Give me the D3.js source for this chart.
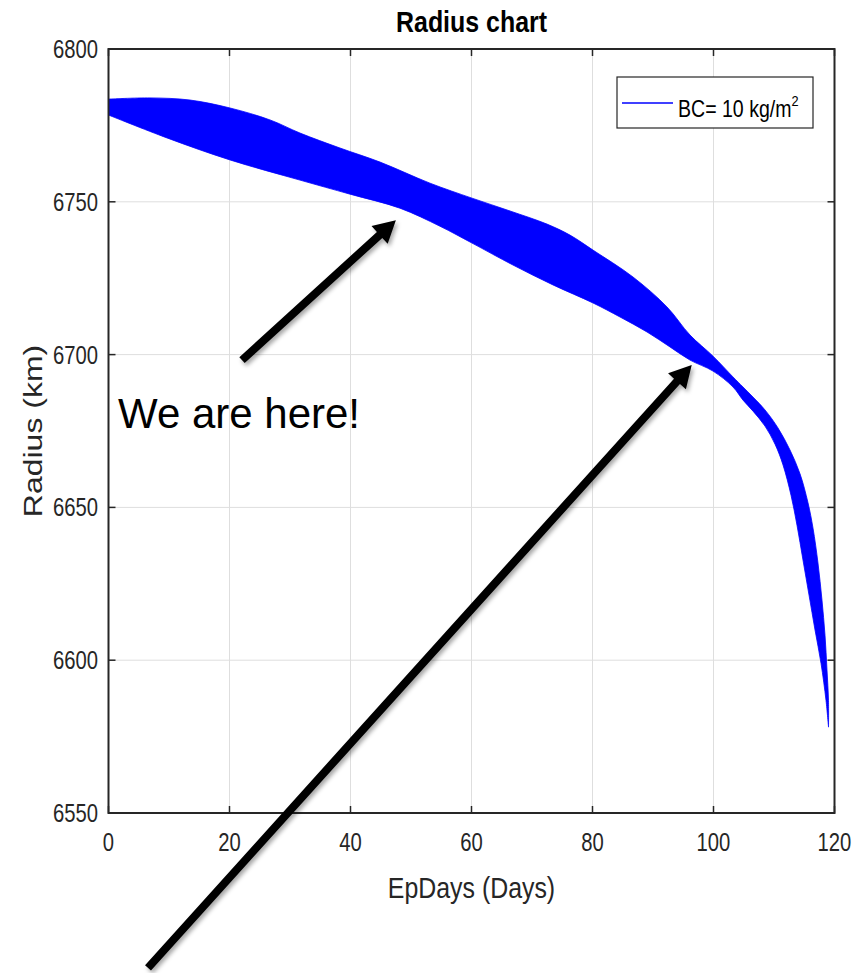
<!DOCTYPE html>
<html><head><meta charset="utf-8">
<script src="https://cdn.jsdelivr.net/npm/d3@7"></script>
<style>body{margin:0;background:#fff}svg{display:block}text{font-family:"Liberation Sans",Arial,Helvetica,sans-serif}</style>
</head><body>
<svg id="c" width="864" height="973"></svg>
<script>
// ---- data ----
const xTicks = [0, 20, 40, 60, 80, 100, 120];
const yTicks = [6550, 6600, 6650, 6700, 6750, 6800];
// upper envelope of the oscillating radius (days, km)
const upperDays = [0, 6.86, 13.47, 20.08, 26.69, 31.65, 38.26, 44.88, 53.14, 60.08, 66.36, 72.48, 76.28, 80.08, 86.69, 92.31, 96.12, 99.92, 103.22, 104.88, 106.53, 108.51, 110.66, 112.64, 114.30, 115.62, 116.45, 117.27, 117.93, 118.43, 118.76, 119.01, 119.01];
const upperR    = [6783.6, 6784.0, 6783.3, 6780.7, 6776.8, 6772.5, 6767.6, 6763.0, 6756.1, 6751.2, 6747.0, 6742.7, 6739.1, 6734.2, 6725.4, 6715.6, 6706.4, 6699.5, 6692.7, 6689.4, 6686.1, 6681.9, 6676.0, 6668.8, 6661.0, 6651.5, 6643.2, 6631.8, 6619.7, 6608.2, 6596.8, 6586.8, 6578.1];
// lower envelope
const lowerDays = [0, 9.67, 20.08, 31.65, 39.92, 48.18, 54.79, 60.08, 66.86, 73.47, 80.08, 84.55, 89.01, 92.81, 96.12, 99.92, 103.22, 104.88, 106.53, 108.51, 110.17, 111.49, 112.81, 113.80, 114.79, 115.79, 116.78, 117.77, 118.60];
const lowerR    = [6778.4, 6770.9, 6763.7, 6757.1, 6752.5, 6747.9, 6742.0, 6736.5, 6729.3, 6722.8, 6716.9, 6712.3, 6707.4, 6702.5, 6698.2, 6694.6, 6689.4, 6685.1, 6681.5, 6676.6, 6670.7, 6663.9, 6654.0, 6644.2, 6632.8, 6621.3, 6609.9, 6599.0, 6586.8];
const seriesName = "BC= 10 kg/m";
// annotation arrows (tail -> tip, in data units)
const arrowTailDays = [22.07, 6.53];
const arrowTailR    = [6698.2, 6499.3];
const arrowTipDays  = [47.5, 96.4];
const arrowTipR     = [6744.0, 6696.6];
const noteText = "We are here!";

// ---- layout ----
const L = 108.5, R = 834.5, T = 49, B = 813;
const x = d3.scaleLinear().domain([0, 120]).range([L, R]);
const y = d3.scaleLinear().domain([6550, 6800]).range([B, T]);
const svg = d3.select("#c");
const axisCol = "#262626";

function ctext(g, tx, ty, str, size, sx, anchor, extra) {
  return g.append("text")
    .attr("transform", `translate(${tx},${ty}) scale(${sx},1)` + (extra || ""))
    .attr("text-anchor", anchor).attr("font-size", size).attr("fill", axisCol).text(str);
}

// grid
const grid = svg.append("g").attr("stroke", "#dedede").attr("stroke-width", 1);
xTicks.slice(1, -1).forEach(d => grid.append("line").attr("x1", x(d)).attr("x2", x(d)).attr("y1", T).attr("y2", B));
yTicks.slice(1, -1).forEach(d => grid.append("line").attr("x1", L).attr("x2", R).attr("y1", y(d)).attr("y2", y(d)));

// band
svg.append("clipPath").attr("id", "clip").append("rect").attr("x", L).attr("y", T).attr("width", R - L).attr("height", B - T);
const upPts = upperDays.map((d, i) => [d, upperR[i]]);
const loPts = lowerDays.map((d, i) => [d, lowerR[i]]).reverse();
const line = d3.line().x(d => x(d[0])).y(d => y(d[1])).curve(d3.curveCatmullRom.alpha(0.5));
const dUp = line(upPts);
const dLo = line([upPts[upPts.length - 1]].concat(loPts)).replace(/^M[^C]*/, "");
svg.append("path").attr("clip-path", "url(#clip)")
  .attr("d", dUp + dLo + "Z").attr("fill", "#0000ff").attr("stroke", "#0000ff").attr("stroke-width", 0.8);

// axes box and ticks
const ax = svg.append("g");
const tl = 7;
xTicks.forEach(d => {
  ax.append("line").attr("x1", x(d)).attr("x2", x(d)).attr("y1", B).attr("y2", B - tl).attr("stroke", axisCol).attr("stroke-width", 1.5);
  ax.append("line").attr("x1", x(d)).attr("x2", x(d)).attr("y1", T).attr("y2", T + tl).attr("stroke", axisCol).attr("stroke-width", 1.5);
  ctext(ax, x(d), 851, String(d), 25, 0.81, "middle");
});
yTicks.forEach(d => {
  ax.append("line").attr("x1", L).attr("x2", L + tl).attr("y1", y(d)).attr("y2", y(d)).attr("stroke", axisCol).attr("stroke-width", 1.5);
  ax.append("line").attr("x1", R).attr("x2", R - tl).attr("y1", y(d)).attr("y2", y(d)).attr("stroke", axisCol).attr("stroke-width", 1.5);
  ctext(ax, 98, y(d) + 9, String(d), 25, 0.81, "end");
});
ax.append("rect").attr("x", L).attr("y", T).attr("width", R - L).attr("height", B - T)
  .attr("fill", "none").attr("stroke", axisCol).attr("stroke-width", 2);

// titles
ctext(svg, (L + R) / 2, 32, "Radius chart", 29, 0.86, "middle").attr("font-weight", "bold").attr("fill", "#000");
ctext(svg, (L + R) / 2, 898, "EpDays (Days)", 30, 0.83, "middle");
svg.append("text").attr("transform", `translate(42,${(T + B) / 2}) scale(0.83,1) rotate(-90)`)
  .attr("text-anchor", "middle").attr("font-size", 32).attr("fill", axisCol).text("Radius (km)");

// legend
const lg = svg.append("g");
lg.append("rect").attr("x", 617).attr("y", 77).attr("width", 196).attr("height", 51)
  .attr("fill", "#fff").attr("stroke", axisCol).attr("stroke-width", 1.2);
lg.append("line").attr("x1", 622).attr("x2", 673).attr("y1", 103).attr("y2", 103).attr("stroke", "#0000ff").attr("stroke-width", 1.5);
const lt = ctext(lg, 678, 117, "", 23, 0.85, "start").attr("fill", "#000");
lt.append("tspan").text(seriesName);
lt.append("tspan").attr("font-size", 15).attr("dy", -11).text("2");

// arrows
const defs = svg.append("defs");
const f = defs.append("filter").attr("id", "sh").attr("x", "-20%").attr("y", "-20%").attr("width", "140%").attr("height", "140%");
f.append("feDropShadow").attr("dx", 2).attr("dy", 3).attr("stdDeviation", 2).attr("flood-color", "#000").attr("flood-opacity", 0.35);
const ag = svg.append("g").attr("filter", "url(#sh)");
arrowTailDays.forEach((d, i) => {
  const x0 = x(d), y0 = y(arrowTailR[i]), x1 = x(arrowTipDays[i]), y1 = y(arrowTipR[i]);
  const len = Math.hypot(x1 - x0, y1 - y0), ux = (x1 - x0) / len, uy = (y1 - y0) / len;
  const px = -uy, py = ux, hw = 4, hl = 22, hh = 12;
  const bx = x1 - ux * hl, by = y1 - uy * hl;
  const poly = [
    [x0 + px * hw, y0 + py * hw], [bx + px * hw, by + py * hw], [bx + px * hh, by + py * hh],
    [x1, y1], [bx - px * hh, by - py * hh], [bx - px * hw, by - py * hw], [x0 - px * hw, y0 - py * hw]
  ];
  ag.append("path").attr("d", "M" + poly.map(p => p.join(",")).join("L") + "Z").attr("fill", "#000");
});

svg.append("text").attr("x", 118).attr("y", 428).attr("font-size", 42).attr("fill", "#000").text(noteText);
</script>
</body></html>
